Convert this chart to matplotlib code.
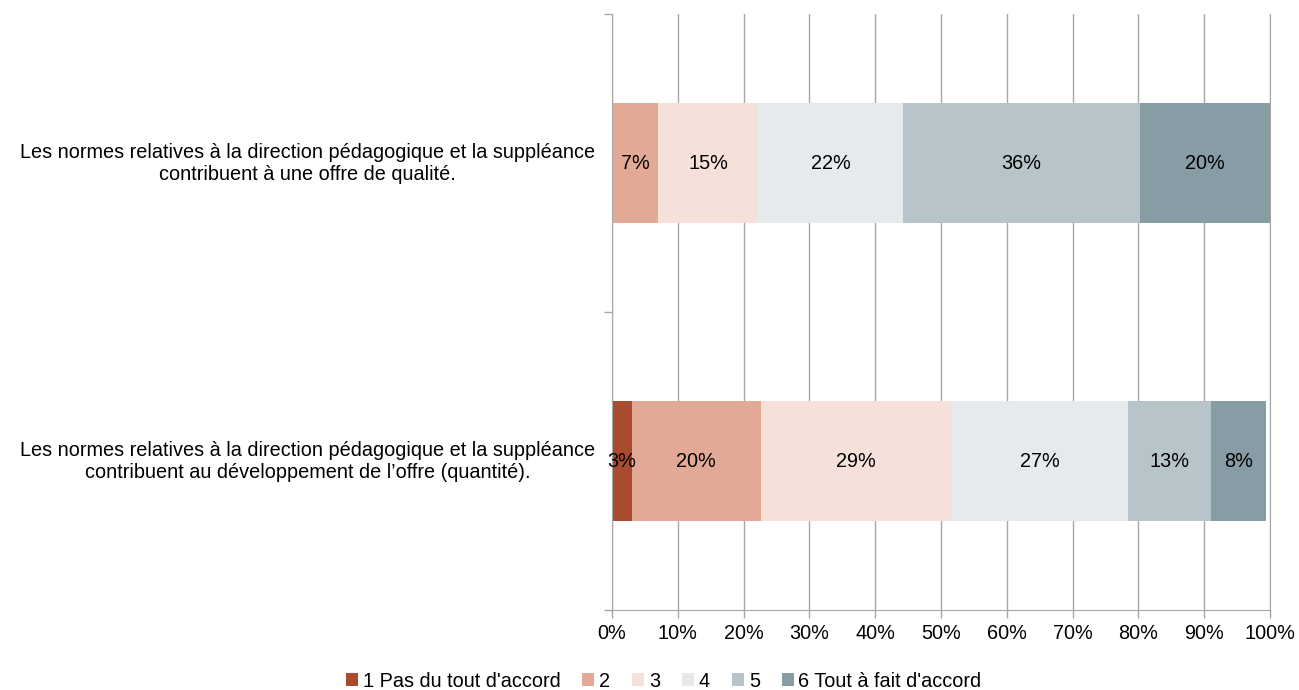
import matplotlib.pyplot as plt
from matplotlib.patches import Patch

plt.rcParams['font.family'] = ['Liberation Sans', 'DejaVu Sans']

categories = ["Les normes relatives à la direction pédagogique et la suppléance\ncontribuent au développement de l’offre (quantité).",
              "Les normes relatives à la direction pédagogique et la suppléance\ncontribuent à une offre de qualité."]
series = ["1 Pas du tout d'accord", "2", "3", "4", "5", "6 Tout à fait d'accord"]
values = [
    [3.0, 0.0],
    [19.6, 7.0],
    [28.9, 15.2],
    [26.9, 22.1],
    [12.6, 35.9],
    [8.4, 19.8],
]
labels = [
    ["3%", ""],
    ["20%", "7%"],
    ["29%", "15%"],
    ["27%", "22%"],
    ["13%", "36%"],
    ["8%", "20%"],
]
colors = ['#A84B2F', '#E3A997', '#F5E0DA', '#E6EAED', '#B7C4CA', '#889CA6']
fs = 14.3

fig = plt.figure(figsize=(12.99, 6.90), dpi=100)
ax = fig.add_axes([0.4711, 0.1159, 0.5066, 0.8638])

ypos = [0, 1]
left = [0.0, 0.0]
for s, vals in enumerate(values):
    ax.barh(ypos, vals, left=left, height=0.4, color=colors[s], label=series[s], zorder=2)
    for i in range(2):
        if labels[s][i]:
            ax.text(left[i] + vals[i] / 2, ypos[i], labels[s][i], ha='center', va='center',
                    fontsize=fs, color='black', zorder=3)
    left = [left[i] + vals[i] for i in range(2)]

ax.set_xlim(0, 100)
ax.set_ylim(-0.5, 1.5)
ax.set_xticks(range(0, 101, 10))
ax.set_xticklabels([f'{v}%' for v in range(0, 101, 10)], fontsize=fs)
ax.xaxis.grid(True, color='#A6A6A6', linewidth=1, zorder=0)
ax.set_yticks([-0.5, 0.5, 1.5])
ax.set_yticklabels([])
ax.tick_params(axis='both', color='#A6A6A6', length=6, width=1)
ax.tick_params(axis='x', pad=4)
ax.spines['top'].set_visible(False)
for sp in ['left', 'bottom', 'right']:
    ax.spines[sp].set_color('#A6A6A6')

for i, cat in enumerate(categories):
    ax.text(-0.026, ypos[i], cat, ha='right', va='center', multialignment='center',
            fontsize=fs, transform=ax.get_yaxis_transform())

handles = [Patch(facecolor=colors[s], label=series[s]) for s in range(6)]
fig.legend(handles=handles, loc='center', bbox_to_anchor=(0.511, 0.013), ncol=6,
           frameon=False, fontsize=fs, handlelength=0.6, handleheight=0.6,
           handletextpad=0.25, columnspacing=1.1)

fig.savefig('out.png', dpi=100)
